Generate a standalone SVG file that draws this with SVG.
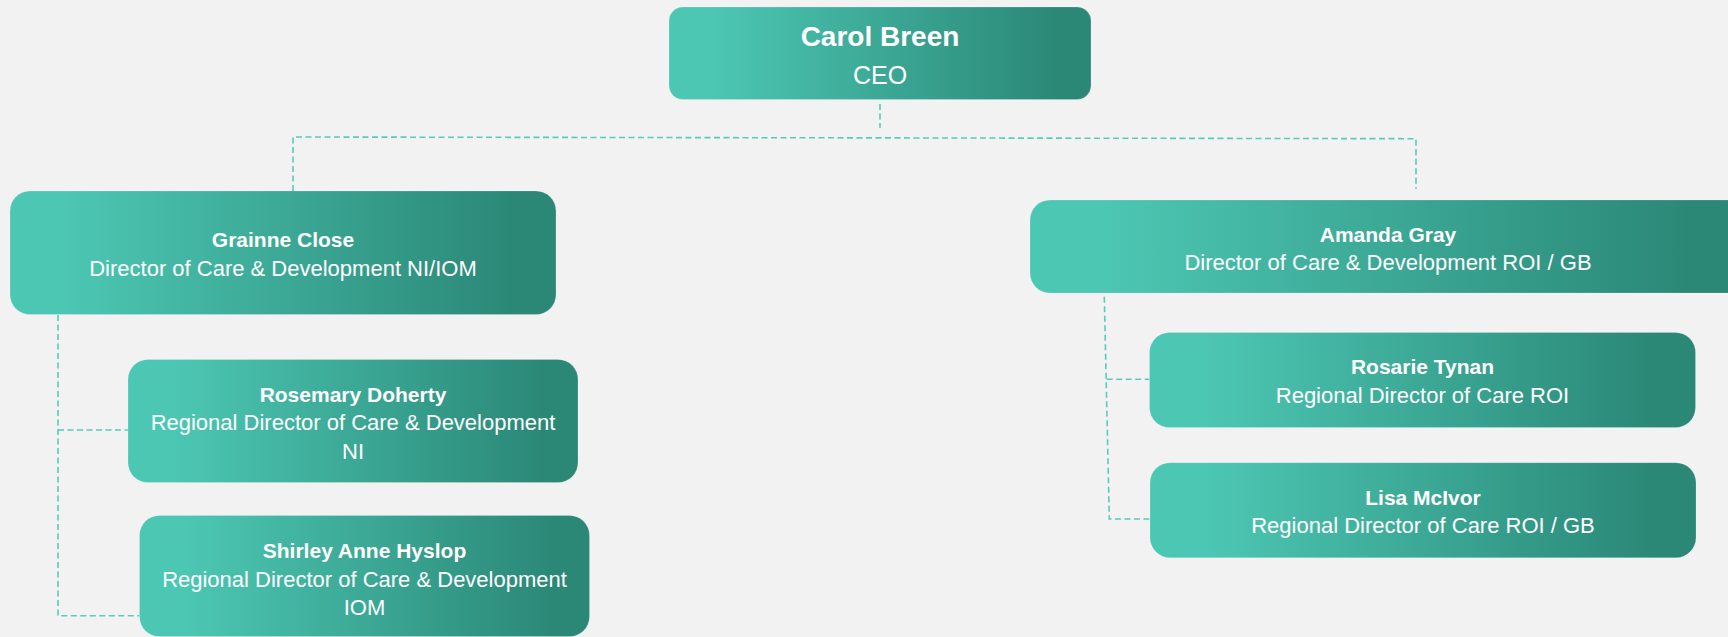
<svg xmlns="http://www.w3.org/2000/svg" width="1728" height="637" viewBox="0 0 1728 637">
  <style>
    .box { fill: url(#g); stroke: #ffffff; stroke-opacity: 0.18; stroke-width: 1; }
    .name { font-family: "Liberation Sans", Arial, sans-serif; font-weight: 700; font-size: 21px; fill: #ffffff; text-anchor: middle; }
    .title { font-family: "Liberation Sans", Arial, sans-serif; font-size: 22px; fill: #ffffff; text-anchor: middle; }
    .conn { fill: none; stroke: #55CDB9; stroke-width: 1.6; stroke-dasharray: 6 3.5; }
  </style>
  <defs>
    <linearGradient id="g" x1="0" y1="0" x2="1" y2="0">
      <stop offset="0.1" stop-color="#4CC7B3"/>
      <stop offset="0.92" stop-color="#2B8877"/>
    </linearGradient>
  </defs>
  <rect width="1728" height="637" fill="#F2F2F2"/>

  <g id="connectors">
    <path class="conn" d="M880 104 V128"/>
    <path class="conn" d="M293 191 V137 L1416 138.7 V189"/>
    <path class="conn" d="M58 315 V615.7 H139"/>
    <path class="conn" d="M58 430 H128"/>
    <path class="conn" d="M1104.3 296.7 L1109.3 519 H1150"/>
    <path class="conn" d="M1106.7 379.3 H1149.3"/>
  </g>

  <g id="node-carol">
    <rect class="box" x="669" y="7" width="422" height="92.5" rx="14"/>
    <text class="name" x="880" y="45.7" style="font-size:28px">Carol Breen</text>
    <text class="title" x="880" y="84" style="font-size:25px">CEO</text>
  </g>

  <g id="node-grainne">
    <rect class="box" x="10" y="191" width="546" height="123.5" rx="20"/>
    <text class="name" x="283" y="246.7">Grainne Close</text>
    <text class="title" x="283" y="276">Director of Care &amp; Development NI/IOM</text>
  </g>

  <g id="node-rosemary">
    <rect class="box" x="128" y="359.5" width="450" height="123" rx="20"/>
    <text class="name" x="353" y="401.7">Rosemary Doherty</text>
    <text class="title" x="353" y="430">Regional Director of Care &amp; Development</text>
    <text class="title" x="353" y="459.3">NI</text>
  </g>

  <g id="node-shirley">
    <rect class="box" x="139.5" y="515.5" width="450" height="121" rx="20"/>
    <text class="name" x="364.5" y="557.5">Shirley Anne Hyslop</text>
    <text class="title" x="364.5" y="587">Regional Director of Care &amp; Development</text>
    <text class="title" x="364.5" y="614.7">IOM</text>
  </g>

  <g id="node-amanda">
    <rect class="box" x="1030" y="200" width="716" height="93" rx="20"/>
    <text class="name" x="1388" y="242.3">Amanda Gray</text>
    <text class="title" x="1388" y="270">Director of Care &amp; Development ROI / GB</text>
  </g>

  <g id="node-rosarie">
    <rect class="box" x="1149.5" y="332.5" width="546" height="95" rx="20"/>
    <text class="name" x="1422.5" y="374.3">Rosarie Tynan</text>
    <text class="title" x="1422.5" y="403.3">Regional Director of Care ROI</text>
  </g>

  <g id="node-lisa">
    <rect class="box" x="1150" y="462.7" width="546" height="95" rx="20"/>
    <text class="name" x="1423" y="505">Lisa McIvor</text>
    <text class="title" x="1423" y="533.3">Regional Director of Care ROI / GB</text>
  </g>
</svg>
